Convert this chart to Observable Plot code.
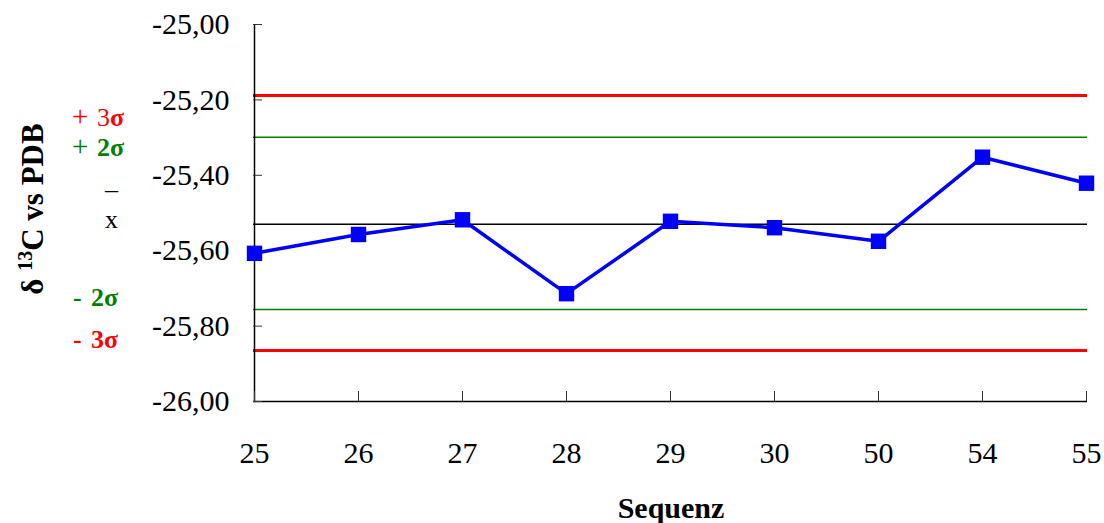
<!DOCTYPE html>
<html>
<head>
<meta charset="utf-8">
<script src="https://cdn.jsdelivr.net/npm/d3@7"></script>
<script src="https://cdn.jsdelivr.net/npm/@observablehq/plot@0.6"></script>
<style>
  html, body { margin: 0; padding: 0; background: #fff; font-family: "Times New Roman", Liberation Serif, Tinos, serif; }
  svg { display: block; }
  svg text { font-family: "Times New Roman", Liberation Serif, Tinos, serif !important; }
</style>
</head>
<body>
<div id="chart"></div>
<script>
// Data
const categories = ["25", "26", "27", "28", "29", "30", "50", "54", "55"];
const values = [-25.607, -25.557, -25.518, -25.714, -25.522, -25.539, -25.575, -25.352, -25.421];
const yTicks = [-26.0, -25.8, -25.6, -25.4, -25.2, -25.0];
const plus3sigma = -25.188;
const plus2sigma = -25.299;
const mean = -25.530;
const minus2sigma = -25.756;
const minus3sigma = -25.865;

const table = categories.map((c, i) => ({seq: c, value: values[i]}));
const fmt = d => d.toFixed(2).replace(".", ",");
const FONT = "\"Times New Roman\", Liberation Serif, Tinos, serif";

const svg = Plot.plot({
  width: 1104,
  height: 523,
  marginLeft: 253,
  marginRight: 17,
  marginTop: 24,
  marginBottom: 122,
  style: {fontFamily: FONT, fontSize: "30px", background: "#fff", color: "#000"},
  x: {type: "point", domain: categories, padding: 0},
  y: {domain: [-26, -25]},
  marks: [
    Plot.ruleY([plus3sigma, minus3sigma], {stroke: "#ff0000", strokeWidth: 3}),
    Plot.ruleY([plus2sigma, minus2sigma], {stroke: "#008000", strokeWidth: 1.5}),
    Plot.ruleY([mean], {stroke: "#000", strokeWidth: 1.5}),
    Plot.ruleX([categories[0]], {stroke: "#000", strokeWidth: 1.5}),
    Plot.ruleY([-26], {stroke: "#000", strokeWidth: 1.5}),
    Plot.axisY({ticks: yTicks, tickSize: 0, tickPadding: 24, tickFormat: fmt, label: null, fontSize: 30}),
    Plot.axisY({ticks: yTicks, tickSize: -9, fill: "none", label: null, stroke: "#333"}),
    Plot.axisX({tickSize: 0, tickPadding: 40, label: null, fontSize: 30}),
    Plot.axisX({tickSize: -10, fill: "none", label: null, stroke: "#333"}),
    Plot.line(table, {x: "seq", y: "value", stroke: "#0000ff", strokeWidth: 3.5}),
    Plot.dot(table, {x: "seq", y: "value", symbol: "square", r: 8.7, fill: "#0000ff", stroke: "none"})
  ]
});

document.getElementById("chart").appendChild(svg);
const s = d3.select(svg);

// x axis title
s.append("text")
  .attr("x", 671).attr("y", 518)
  .attr("text-anchor", "middle")
  .attr("font-size", 30).attr("font-weight", "bold")
  .text("Sequenz");

// y axis title
const yt = s.append("text")
  .attr("transform", "translate(43,209) rotate(-90)")
  .attr("text-anchor", "middle")
  .attr("font-size", 31).attr("font-weight", "bold");
yt.append("tspan").text("δ ");
yt.append("tspan").attr("dy", -11).attr("font-size", 20).text("13");
yt.append("tspan").attr("dy", 11).text("C vs PDB");

// control limit labels: one text element per piece
function piece(txt, x, y, color, bold, size) {
  s.append("text")
    .attr("x", x).attr("y", y)
    .attr("text-anchor", "start")
    .attr("fill", color)
    .attr("font-size", size)
    .attr("font-weight", bold ? "bold" : "normal")
    .text(txt);
}
piece("+", 72, 126, "#ff0000", false, 29);
piece("3", 97, 126, "#ff0000", false, 26);
piece("σ", 110, 126, "#ff0000", true, 26);
piece("+", 72, 156, "#008000", false, 29);
piece("2σ", 97, 156, "#008000", true, 26);
piece("–", 105, 198, "#000", false, 26);
piece("x", 105, 228, "#000", false, 26);
piece("-", 73, 306, "#008000", true, 26);
piece("2σ", 91, 306, "#008000", true, 26);
piece("-", 73, 348, "#ff0000", true, 26);
piece("3σ", 91, 348, "#ff0000", true, 26);
</script>
</body>
</html>
